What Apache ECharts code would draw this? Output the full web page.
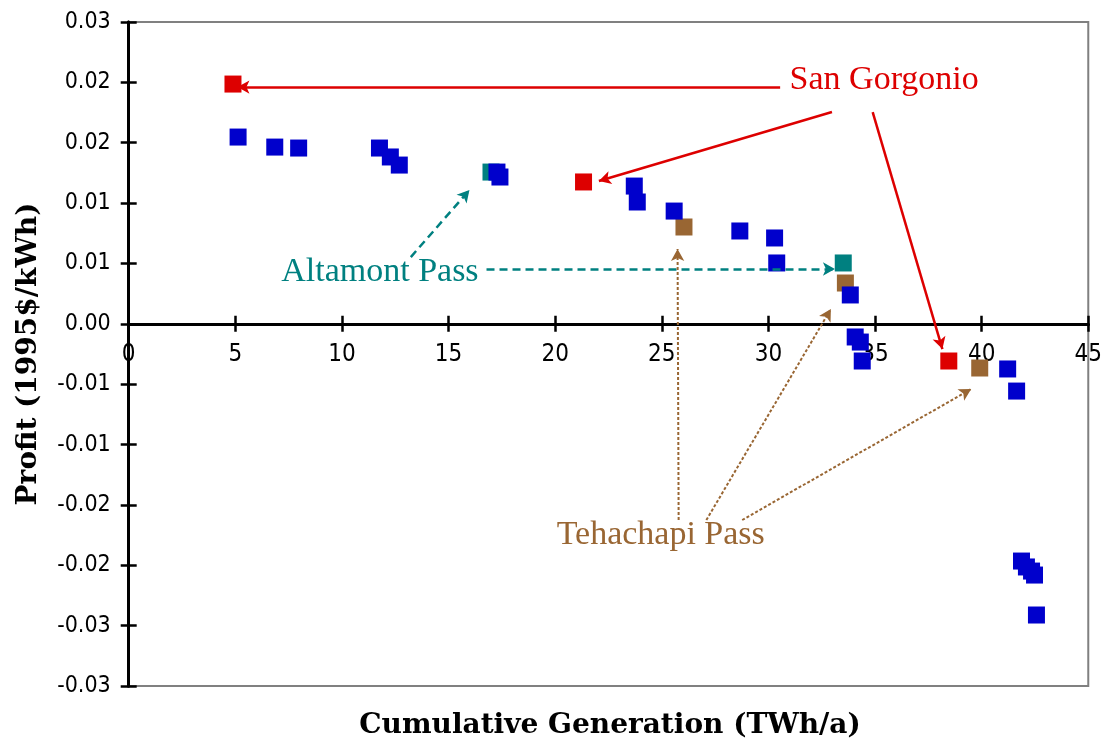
<!DOCTYPE html>
<html><head><meta charset="utf-8">
<script src="https://cdn.jsdelivr.net/npm/echarts@6/dist/echarts.min.js"></script>
<style>html,body{margin:0;padding:0;background:#fff}#c{width:1105px;height:744px}</style>
</head><body><div id="c"></div>
<script>
// ---- data ----
const blueX = [5.13, 6.85, 7.97, 11.76, 12.27, 12.69, 17.27, 17.41, 23.71, 23.85, 25.58, 28.66, 30.29, 30.39, 33.84, 34.07, 34.31, 34.40, 41.22, 41.64, 41.87, 42.10, 42.34, 42.48, 42.57];
const blueY = [0.01547, 0.01464, 0.01456, 0.01456, 0.01382, 0.01315, 0.01257, 0.01216, 0.01141, 0.01009, 0.00934, 0.00769, 0.00711, 0.00504, 0.00239, -0.00109, -0.00151, -0.00308, -0.00374, -0.00557, -0.01965, -0.02014, -0.02048, -0.02081, -0.02412];
const redX = [4.89, 21.33, 38.46];
const redY = [0.01986, 0.01175, -0.00308];
const tealX = [16.99, 33.51];
const tealY = [0.01257, 0.00504];
const brownX = [26.04, 33.61, 39.91];
const brownY = [0.00802, 0.00338, -0.00366];

const xMin = 0, xMax = 45, xStep = 5;
const yMin = -0.03, yMax = 0.025, yStep = 0.005;
const yTickLabels = ['-0.03', '-0.03', '-0.02', '-0.02', '-0.01', '-0.01', '0.00', '0.01', '0.01', '0.02', '0.02', '0.03'];

const xTitle = 'Cumulative Generation (TWh/a)';
const yTitle = 'Profit (1995$/kWh)';

// annotation texts and arrows (data coordinates)
const sanGorgonioLabel = {text: 'San Gorgonio', at: [35.43, 0.02019]};
const sanGorgonioArrows = [[[30.55, 0.01961], [5.10, 0.01961]], [[32.98, 0.01754], [22.05, 0.01183]], [[34.89, 0.01754], [38.16, -0.00209]]];
const altamontLabel = {text: 'Altamont Pass', at: [11.78, 0.00429]};
const altamontArrows = [[[13.23, 0.00553], [15.98, 0.01108]], [[16.78, 0.00454], [33.12, 0.00454]]];
const tehachapiLabel = {text: 'Tehachapi Pass', at: [24.95, -0.01749]};
const tehachapiArrows = [[[25.79, -0.01625], [25.74, 0.0062]], [[27.09, -0.01625], [32.93, 0.00123]], [[28.77, -0.01625], [39.51, -0.0054]]];

// ---- chart ----
const zip = (xs, ys) => xs.map((x, i) => [x, ys[i]]);
const COLORS = {blue: '#0000CC', red: '#DD0000', teal: '#008080', brown: '#996633'};
const tickFont = "'Liberation Sans Narrow', 'DejaVu Sans Condensed', 'Arial Narrow', sans-serif";
const serif = "'Liberation Serif', 'Times New Roman', serif";

const GRID = {left: 128.7, right: 12.5, top: 22, bottom: 58};
const plotH = 744 - GRID.top - GRID.bottom;
// x axis sits on the y = 0 line: shift it up from the grid bottom by the scale position of zero
const xAxisOffset = -plotH * (0 - yMin) / (yMax - yMin);

function arrowLines(arrows) {
  return arrows.map(a => [{coord: a[0]}, {coord: a[1]}]);
}
function labelPoint(lbl, color) {
  return {
    symbol: 'rect', symbolSize: 1, itemStyle: {color: 'rgba(0,0,0,0)'},
    data: [{coord: lbl.at, value: lbl.text}],
    label: {show: true, position: 'inside', formatter: lbl.text, color: color,
      fontFamily: serif, fontSize: 34, fontWeight: 'normal'},
    silent: true
  };
}
function markLineOf(arrows, color, type, width) {
  return {
    silent: true, symbol: ['none', 'arrow'], symbolSize: [10, 12],
    label: {show: false},
    lineStyle: {color: color, type: type, width: width},
    emphasis: {disabled: true},
    data: arrowLines(arrows)
  };
}

const baseX = {type: 'value', min: xMin, max: xMax, interval: xStep, position: 'bottom', offset: xAxisOffset,
  axisLine: {onZero: false, lineStyle: {color: '#000', width: 3}}, splitLine: {show: false}};
const baseY = {type: 'value', min: yMin, max: yMax, interval: yStep, position: 'left',
  axisLine: {onZero: false, lineStyle: {color: '#000', width: 3}}, splitLine: {show: false}};

const option = {
  animation: false,
  backgroundColor: '#fff',
  grid: Object.assign({show: true, borderColor: '#808080', borderWidth: 2, backgroundColor: 'transparent'}, GRID),
  xAxis: [
    Object.assign({}, baseX, {
      axisTick: {show: true, inside: false, length: 8, lineStyle: {color: '#000', width: 2.5}},
      axisLabel: {show: true, margin: 19, color: '#000', fontFamily: tickFont, fontSize: 24}
    }),
    Object.assign({}, baseX, {
      axisTick: {show: true, inside: true, length: 8, lineStyle: {color: '#000', width: 2.5}},
      axisLabel: {show: false}
    })
  ],
  yAxis: [
    Object.assign({}, baseY, {
      axisTick: {show: true, inside: false, length: 8, lineStyle: {color: '#000', width: 2.5}},
      axisLabel: {show: true, margin: 18, color: '#000', fontFamily: tickFont, fontSize: 23,
        formatter: v => yTickLabels[Math.round((v - yMin) / yStep)]},
      name: yTitle, nameLocation: 'middle', nameRotate: 90, nameGap: 86,
      nameTextStyle: {fontFamily: "'DejaVu Serif', serif", fontWeight: 'bold', fontSize: 28, color: '#000'}
    }),
    Object.assign({}, baseY, {
      axisTick: {show: true, inside: true, length: 8, lineStyle: {color: '#000', width: 2.5}},
      axisLabel: {show: false}
    })
  ],
  graphic: [{
    type: 'text', x: 610, y: 726, silent: true,
    style: {text: xTitle, fontFamily: "'DejaVu Serif', serif", fontWeight: 'bold', fontSize: 28,
      fill: '#000', align: 'center', verticalAlign: 'middle'}
  }],
  series: [
    {type: 'scatter', name: 'San Gorgonio', data: zip(redX, redY), symbol: 'rect', symbolSize: 17,
      itemStyle: {color: COLORS.red, opacity: 1}, z: 3,
      markLine: markLineOf(sanGorgonioArrows, COLORS.red, 'solid', 2.5),
      markPoint: labelPoint(sanGorgonioLabel, COLORS.red)},
    {type: 'scatter', name: 'Altamont Pass', data: zip(tealX, tealY), symbol: 'rect', symbolSize: 17,
      itemStyle: {color: COLORS.teal, opacity: 1}, z: 3,
      markLine: markLineOf(altamontArrows, COLORS.teal, [8, 5], 2.5),
      markPoint: labelPoint(altamontLabel, COLORS.teal)},
    {type: 'scatter', name: 'Tehachapi Pass', data: zip(brownX, brownY), symbol: 'rect', symbolSize: 17,
      itemStyle: {color: COLORS.brown, opacity: 1}, z: 3,
      markLine: markLineOf(tehachapiArrows, COLORS.brown, [3, 2], 2),
      markPoint: labelPoint(tehachapiLabel, COLORS.brown)},
    {type: 'scatter', name: 'Other', data: zip(blueX, blueY), symbol: 'rect', symbolSize: 17,
      itemStyle: {color: COLORS.blue, opacity: 1}, z: 4}
  ]
};
const chart = echarts.init(document.getElementById('c'), null, {renderer: 'canvas'});
chart.setOption(option);
</script>
</body></html>
